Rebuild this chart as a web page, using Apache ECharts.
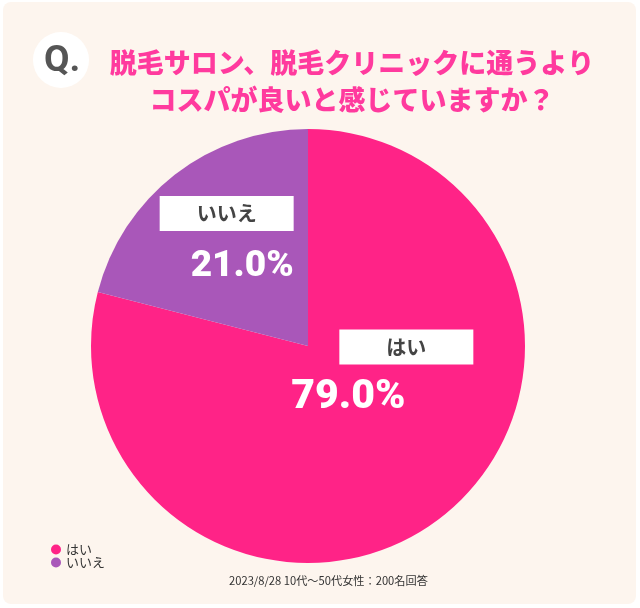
<!DOCTYPE html>
<html>
<head>
<meta charset="utf-8">
<script src="https://cdn.jsdelivr.net/npm/echarts@6/dist/echarts.min.js"></script>
<style>
  html, body { margin: 0; padding: 0; background: #fff; }
  #chart { width: 640px; height: 608px; }
</style>
</head>
<body>
<div id="chart"></div>
<script>
(function () {

  // 回答データ
  var answers = ['はい', 'いいえ'];
  var shares = [79.0, 21.0];
  var colors = ['#FF2387', '#A957B9'];

  var titleLines = ['脱毛サロン、脱毛クリニックに通うより', 'コスパが良いと感じていますか？'];
  var footNote = '2023/8/28 10代〜50代女性：200名回答';

  var chart = echarts.init(document.getElementById('chart'));

  var boxStyle = {
    width: 134,
    height: 35,
    lineHeight: 35,
    backgroundColor: '#fff',
    color: '#444',
    fontSize: 20,
    fontWeight: 'bold',
    fontFamily: 'Noto Sans CJK JP',
    align: 'center'
  };

  // ラベルの並び方は扇ごとに少し違う
  var labelSetup = [
    {
      offset: [6, -54],
      formatter: function (p) {
        return '{sp| }{box|' + p.name + '}\n{pct|' + p.value.toFixed(1) + '%}';
      },
      rich: {
        sp: { width: 48, height: 35 },
        box: boxStyle,
        pct: { fontSize: 41, lineHeight: 66, fontWeight: 900, fontFamily: 'Roboto', color: '#fff', align: 'left' }
      }
    },
    {
      offset: [-13, -9],
      formatter: function (p) {
        return '{box|' + p.name + '}\n{pct|' + p.value.toFixed(1) + '%}';
      },
      rich: {
        box: boxStyle,
        pct: { fontSize: 37, lineHeight: 71, fontWeight: 900, fontFamily: 'Roboto', color: '#fff', align: 'right' }
      }
    }
  ];

  var pieData = answers.map(function (name, i) {
    return {
      name: name,
      value: shares[i],
      itemStyle: { color: colors[i] },
      label: Object.assign({ show: true, position: 'inside' }, labelSetup[i])
    };
  });

  var option = {
    backgroundColor: '#fff',
    animation: false,
    graphic: [
      {
        type: 'rect',
        z: -10,
        shape: { x: 3, y: 2, width: 633, height: 602, r: 8 },
        style: { fill: '#FDF5EE' }
      },
      {
        type: 'circle',
        z: -5,
        shape: { cx: 61, cy: 60, r: 28 },
        style: { fill: '#fff' }
      },
      {
        type: 'text',
        left: 44,
        top: 43,
        style: { text: 'Q.', font: 'bold 37px Roboto', fill: '#555' }
      },
      {
        type: 'text',
        left: 229,
        top: 575,
        style: { text: footNote, font: '11.2px "Noto Sans CJK JP"', fill: '#333' }
      }
    ],
    title: {
      text: titleLines.join('\n'),
      left: 347,
      top: 39,
      textAlign: 'center',
      textStyle: {
        color: '#FF3A9E',
        fontSize: 27,
        lineHeight: 37,
        fontWeight: 900,
        fontFamily: 'Noto Sans CJK JP'
      }
    },
    legend: {
      orient: 'vertical',
      left: 46,
      top: 538,
      icon: 'circle',
      itemWidth: 10,
      itemHeight: 10,
      itemGap: 0,
      textStyle: { fontSize: 13, lineHeight: 13, color: '#333', fontFamily: 'Noto Sans CJK JP' },
      data: answers
    },
    series: [{
      type: 'pie',
      center: [308, 346],
      radius: [0, 217],
      startAngle: 90,
      clockwise: true,
      silent: true,
      labelLine: { show: false },
      data: pieData
    }]
  };

  chart.setOption(option);
}());
</script>
</body>
</html>
